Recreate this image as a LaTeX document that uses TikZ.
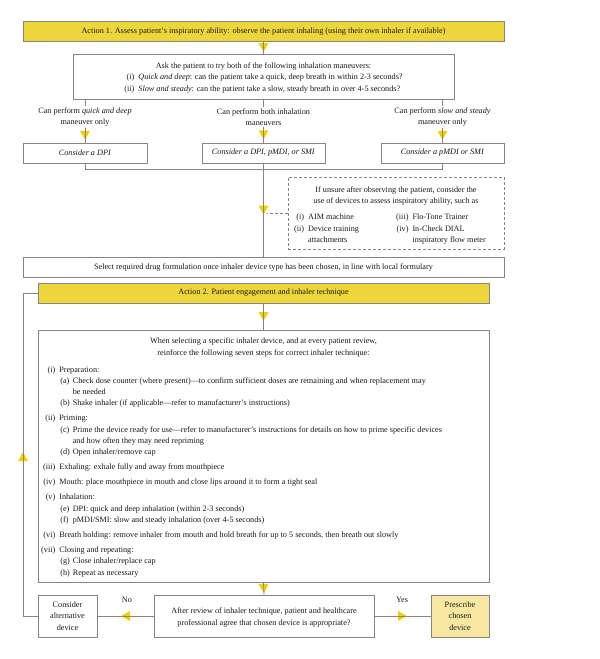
\documentclass[tikz,border=0pt]{standalone}
\usepackage{fontspec}
\setmainfont{Liberation Serif}
\usetikzlibrary{decorations.markings}
\definecolor{ybox}{HTML}{EDD63C}
\definecolor{ytri}{HTML}{F0D000}
\definecolor{ylight}{HTML}{F7E7A1}
\definecolor{lgray}{HTML}{858585}
\newcommand\subitm[2]{\hspace{1pt}\makebox[12.5pt][l]{#1}#2}
\begin{document}
\begin{tikzpicture}[x=1pt,y=-1pt,
  every node/.style={font=\fontsize{8.2}{11.3}\selectfont, inner sep=0pt, text=black!90},
  box/.style={draw=lgray, line width=0.9pt, fill=white},
  ybx/.style={draw=lgray, line width=0.9pt, fill=ybox},
  conn/.style={draw=lgray, line width=0.8pt},
  midtri/.style={preaction={decorate,decoration={markings,
     mark=at position #1 with {\fill[ytri] (-4.5,-5)--(4.5,0)--(-4.5,5)--cycle;}}}},
  midtri/.default=0.5,
  lbl/.style={align=center}
]
\useasboundingbox (0,0) rectangle (600,659);

% Action 1
\node[ybx, minimum width=481pt, minimum height=20pt] (a1) at (263.5,31)
  {Action 1. Assess patient's inspiratory ability: observe the patient inhaling (using their own inhaler if available)};

\node[box, minimum width=381pt, minimum height=45pt] (b2) at (263.5,76.5) {};
\node[align=center, font=\fontsize{8.2}{11.7}\selectfont] (b2t) at (263.5,79)
  {Ask the patient to try both of the following inhalation maneuvers:\\
   \begin{tabular}{@{}r@{\hspace{4pt}}l@{}}
   (i)&\textit{Quick and deep}: can the patient take a quick, deep breath in within 2-3 seconds?\\
   (ii)&\textit{Slow and steady}: can the patient take a slow, steady breath in over 4-5 seconds?
   \end{tabular}};

\node[lbl, inner ysep=1.5pt] (l1) at (85,117) {Can perform \textit{quick and deep}\\maneuver only};
\node[lbl, inner ysep=1.5pt] (l2) at (263.5,117) {Can perform both inhalation\\maneuvers};
\node[lbl, inner ysep=1.5pt] (l3) at (442.5,117) {Can perform \textit{slow and steady}\\maneuver only};

\node[box, minimum width=124pt, minimum height=20pt] (c1) at (85,153) {\textit{Consider a DPI}};
\node[box, minimum width=123pt, minimum height=20pt] (c2) at (263.5,153) {\textit{Consider a DPI, pMDI, or SMI}};
\node[box, minimum width=123pt, minimum height=20pt] (c3) at (442.5,153) {\textit{Consider a pMDI or SMI}};

% unsure box
\node[draw=lgray, line width=0.8pt, dash pattern=on 3pt off 2pt, minimum width=216pt, minimum height=72pt] (u) at (396,213) {};
\node[lbl] (uhead) at (396,196) {If unsure after observing the patient, consider the\\use of devices to assess inspiratory ability, such as};
\node[anchor=west] (ulist) at (294,229)
  {\begin{tabular}{@{}r@{\hspace{4pt}}p{88pt}@{}r@{\hspace{4pt}}l@{}}
   (i)&AIM machine&(iii)&Flo-Tone Trainer\\
   (ii)&Device training&(iv)&In-Check DIAL\\
   &attachments&&inspiratory flow meter
   \end{tabular}};

\node[box, minimum width=481pt, minimum height=20pt] (d) at (263.5,267)
  {Select required drug formulation once inhaler device type has been chosen, in line with local formulary};

% Action 2
\node[ybx, minimum width=451pt, minimum height=20pt] (a2) at (263.5,293)
  {Action 2. Patient engagement and inhaler technique};

\node[box, minimum width=451pt, minimum height=252pt] (big) at (263.5,456) {};
\node[lbl] (bhead) at (263.5,347.5) {When selecting a specific inhaler device, and at every patient review,\\reinforce the following seven steps for correct inhaler technique:};
\node[anchor=base west] (steps) at (41,372)
  {\begin{tabular}[t]{@{}r@{\hspace{4pt}}l@{}}
   (i)&Preparation:\\
   &\subitm{(a)}{Check dose counter (where present)---to confirm sufficient doses are remaining and when replacement may}\\
   &\subitm{}{be needed}\\
   &\subitm{(b)}{Shake inhaler (if applicable---refer to manufacturer's instructions)}\\[3.7pt]
   (ii)&Priming:\\
   &\subitm{(c)}{Prime the device ready for use---refer to manufacturer's instructions for details on how to prime specific devices}\\
   &\subitm{}{and how often they may need repriming}\\
   &\subitm{(d)}{Open inhaler/remove cap}\\[3.7pt]
   (iii)&Exhaling: exhale fully and away from mouthpiece\\[3.7pt]
   (iv)&Mouth: place mouthpiece in mouth and close lips around it to form a tight seal\\[3.7pt]
   (v)&Inhalation:\\
   &\subitm{(e)}{DPI: quick and deep inhalation (within 2-3 seconds)}\\
   &\subitm{(f)}{pMDI/SMI: slow and steady inhalation (over 4-5 seconds)}\\[3.7pt]
   (vi)&Breath holding: remove inhaler from mouth and hold breath for up to 5 seconds, then breath out slowly\\[3.7pt]
   (vii)&Closing and repeating:\\
   &\subitm{(g)}{Close inhaler/replace cap}\\
   &\subitm{(h)}{Repeat as necessary}
   \end{tabular}};

% bottom row
\node[box, minimum width=59pt, minimum height=42pt, align=center] (ca) at (67.5,616) {Consider\\alternative\\device};
\node[box, minimum width=220pt, minimum height=42pt] (dec) at (264,616) {};
\node[align=center] (dect) at (264,617.5)
  {After review of inhaler technique, patient and healthcare\\professional agree that chosen device is appropriate?};
\node[box, fill=ylight, minimum width=58pt, minimum height=42pt, align=center] (pr) at (460,616) {Prescribe\\chosen\\device};
\node (no) at (127,600) {No};
\node (yes) at (402,600) {Yes};

% connectors
\draw[conn, midtri] (a1.south) -- (b2.north);
\draw[conn] (b2.south -| l1.north) -- (l1.north);
\draw[conn] (b2.south -| l2.north) -- (l2.north);
\draw[conn] (b2.south -| l3.north) -- (l3.north);
\draw[conn, midtri] (l1.south) -- (c1.north);
\draw[conn, midtri] (l2.south) -- (c2.north);
\draw[conn, midtri] (l3.south) -- (c3.north);
\draw[conn] (c1.south) -- ++(0,6) -| (c3.south);
\draw[conn, midtri] (c2.south) -- (d.north);
\coordinate (tj) at (267,213);
\draw[conn, dash pattern=on 3pt off 2pt] (u.west) -- (tj);
\draw[conn, midtri] (a2.south) -- (big.north);
\draw[conn, midtri] (big.south) -- (dec.north);
\draw[conn, midtri] (dec.west) -- (ca.east);
\draw[conn, midtri] (dec.east) -- (pr.west);
\coordinate (fbx) at (23,0);
\draw[conn, midtri=174pt] (ca.west) -| (fbx |- a2.west) -- (a2.west);
\end{tikzpicture}
\end{document}
